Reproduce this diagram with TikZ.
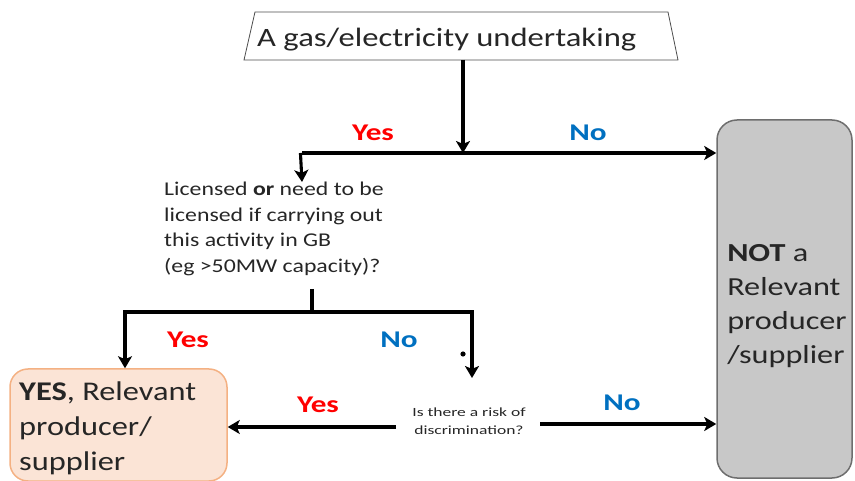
\documentclass[tikz,border=0pt]{standalone}
\usepackage{fontspec}
\setmainfont{Carlito}
\usetikzlibrary{arrows.meta}
\definecolor{yesred}{HTML}{FF0000}
\definecolor{noblue}{HTML}{0070C0}
\definecolor{peach}{HTML}{FBE4D6}
\definecolor{peachline}{HTML}{F4B183}
\definecolor{greyfill}{HTML}{C8C8C8}
\definecolor{greyline}{HTML}{6E6E6E}
\definecolor{txt}{HTML}{262626}
\tikzset{
  conn/.style={line width=3.1pt, draw=black},
  arr/.style={conn, -{Stealth[length=12pt,width=14pt,inset=3pt]}},
  yeslbl/.style={text=yesred, xscale=1.3, font=\fontsize{24}{26}\selectfont\bfseries},
  nolbl/.style={text=noblue, xscale=1.3, font=\fontsize{24}{26}\selectfont\bfseries},
}
\begin{document}
\begin{tikzpicture}[x=1pt,y=-1pt]
\useasboundingbox (0,0) rectangle (855,481);
% top trapezium
\draw[draw=black!70, line width=0.8pt] (255,12) -- (668,12) -- (678,60) -- (244,60) -- cycle;
\coordinate (topS) at (463,60);
\node[anchor=west, text=txt, xscale=1.23, font=\fontsize{26.5}{28}\selectfont, inner sep=0pt] (top) at (257,40) {A gas/electricity undertaking};
% right grey box
\node[draw=greyline, fill=greyfill, line width=1.5pt, rounded corners=20pt,
      minimum width=135pt, minimum height=358pt] (notbox) at (784.5,299) {};
\node[anchor=west, align=left, text=txt, inner sep=0pt, xscale=1.24,
      font=\fontsize{26}{34}\selectfont] (nottext) at (727,306)
  {\textbf{NOT} a\\Relevant\\producer\\/supplier};
% yes box
\node[draw=peachline, fill=peach, line width=1.5pt, rounded corners=18pt,
      minimum width=217pt, minimum height=112pt] (yesbox) at (118.5,425) {};
\node[anchor=west, align=left, text=txt, inner sep=0pt, xscale=1.2,
      font=\fontsize{27}{35}\selectfont] (yestext) at (19,428)
  {\textbf{YES}, Relevant\\producer/\\supplier};
% question 1
\node[anchor=north west, align=left, text=txt, inner sep=0pt, xscale=1.22,
      font=\fontsize{19.5}{25.5}\selectfont] (q1) at (164,182)
  {Licensed \textbf{or} need to be\\licensed if carrying out\\this activity in GB\\(eg >50MW capacity)?};
% question 2
\node[align=center, text=txt, inner sep=2pt, xscale=1.4,
      font=\fontsize{12.5}{18}\selectfont] (q2) at (469,421)
  {Is there a risk of\\discrimination?};
% junction coordinates
\coordinate (j1) at (463,153);
\coordinate (jL) at (302,153);
\coordinate (s2) at (312,289);
\coordinate (j2) at (312,312);
\coordinate (j2L) at (125,312);
\coordinate (j2R) at (472,312);
% connectors
\draw[arr] (topS) -- (j1);
\draw[arr] (jL) -- (notbox.west |- jL);
\draw[arr] ([xshift=-1.55pt]jL) -- (302,182);
\draw[conn] (s2) -- (j2);
\draw[conn] ([xshift=-1.55pt]j2L) -- ([xshift=1.55pt]j2R);
\draw[arr] (j2L) -- (yesbox.north -| j2L);
\draw[arr] (j2R) -- (472,378);
\draw[arr] (396,427) -- (yesbox.east |- 0,427);
\draw[arr] (540,424) -- (notbox.west |- 0,424);
\fill (463,354) circle (2.6pt);
% labels
\node[yeslbl] (l1) at (373,133) {Yes};
\node[nolbl] (l2) at (588,133) {No};
\node[yeslbl] (l3) at (188,340) {Yes};
\node[nolbl] (l4) at (399,340) {No};
\node[yeslbl] (l5) at (318,405) {Yes};
\node[nolbl] (l6) at (622,403) {No};
\end{tikzpicture}
\end{document}
